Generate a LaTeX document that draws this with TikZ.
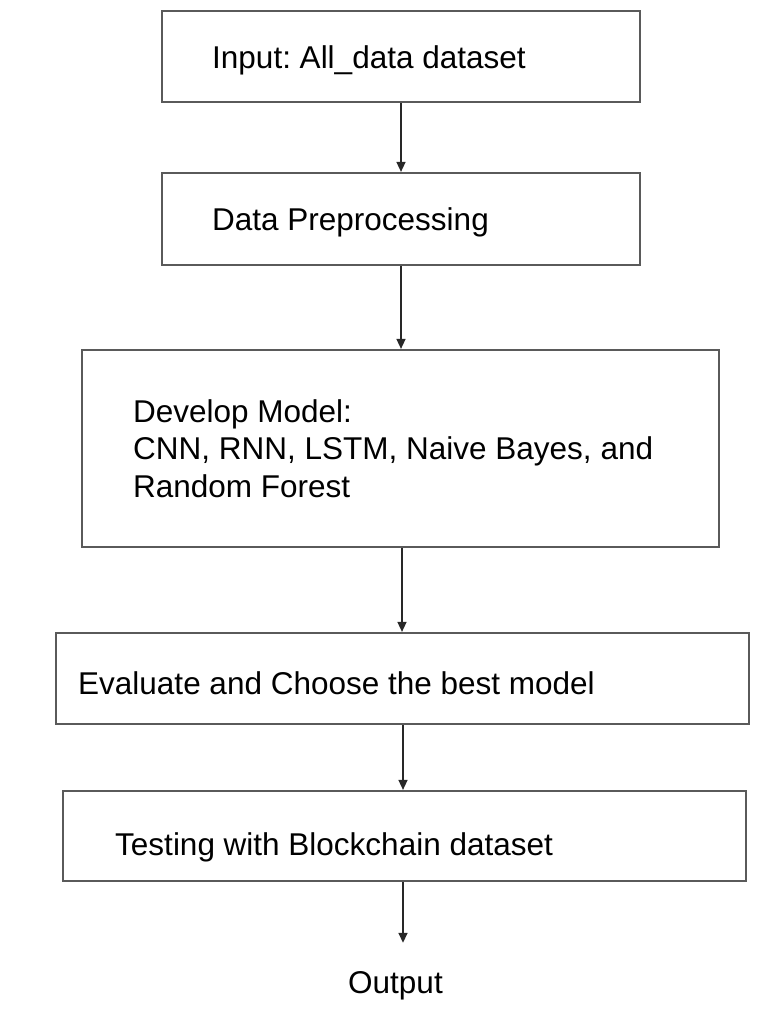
\documentclass[tikz,border=0pt]{standalone}
\usepackage{fontspec}
\setmainfont{Liberation Sans}
\usetikzlibrary{arrows.meta}
\frenchspacing

\definecolor{boxgray}{RGB}{90,90,90}
\definecolor{flowgray}{RGB}{40,40,40}

\tikzset{
  stage/.style 2 args={draw=boxgray, line width=2.2pt, minimum width=#1, minimum height=#2, inner sep=0pt},
  label/.style={anchor=base west, inner sep=0pt, font=\fontsize{31.5}{37.5}\selectfont},
  flow/.style={draw=flowgray, line width=1.5pt, -{Triangle[length=10pt,width=9pt]}}
}

\begin{document}
\begin{tikzpicture}[x=1pt,y=-1pt]
			\useasboundingbox (0,0) rectangle (783,1013);

			% boxes
			\node[stage={478pt}{91pt}] (input) at (401,56.5) {};
			\node[stage={478pt}{92pt}] (prep) at (401,219) {};
			\node[stage={637pt}{197pt}] (develop) at (400.5,448.5) {};
			\node[stage={693pt}{91pt}] (evaluate) at (402.5,678.5) {};
			\node[stage={683pt}{90pt}] (testing) at (404.5,836) {};

			% box labels
			\node[label] (inputtext) at (212,68) {Input: All\_data dataset};
			\node[label] (preptext) at (212,230) {Data Preprocessing};
			\node[label, anchor=west, align=left] (developtext) at (133,448.5) {Develop Model:\\CNN, RNN, LSTM, Naive Bayes, and\\Random Forest};
			\node[label] (evaluatetext) at (78,694) {Evaluate and Choose the best model};
			\node[label] (testingtext) at (115,855) {Testing with Blockchain dataset};
			\node[label] (output) at (348,993) {Output};

			% arrows
			\draw[flow] (input.south) -- (prep.north);
			\draw[flow] (prep.south) -- (prep.south |- develop.north);
			\draw[flow] ([xshift=1.5pt]develop.south) -- ([xshift=1.5pt]develop.south |- evaluate.north);
			\draw[flow] ([xshift=0.5pt]evaluate.south) -- ([xshift=0.5pt]evaluate.south |- testing.north);
			\draw[flow, shorten >=28pt] ([xshift=-1.5pt]testing.south) -- ([xshift=-1.5pt]testing.south |- output.north);
		\end{tikzpicture}
\end{document}
